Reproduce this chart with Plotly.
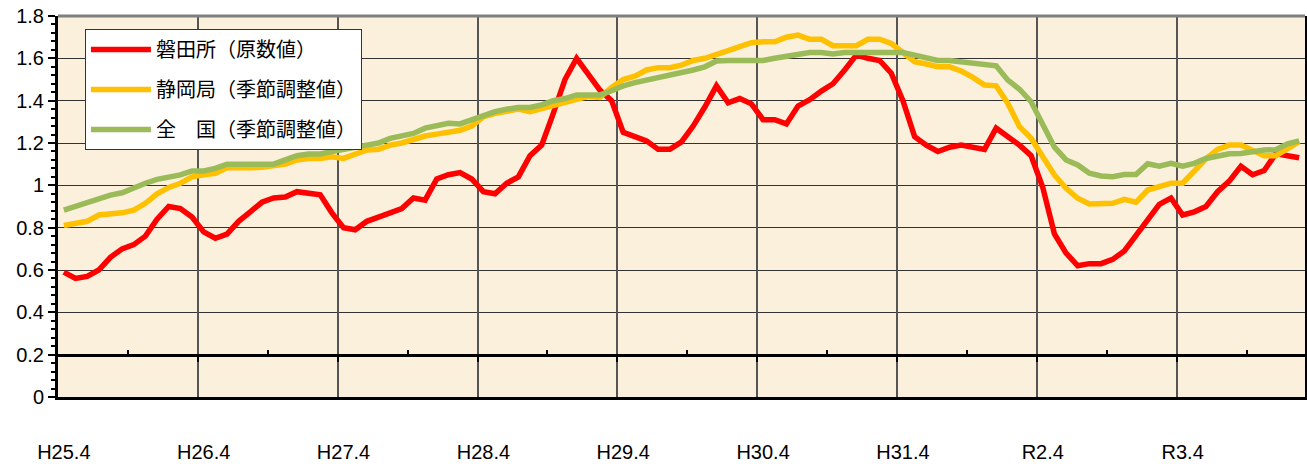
import plotly.graph_objects as go

# Month categories: H25.4 (Apr 2013) .. R4.2 (Feb 2022)
months = []
for k in range(107):
    y = 2013 + (3 + k) // 12
    m = (3 + k) % 12 + 1
    if (y, m) < (2019, 5):
        months.append(f"H{y - 1988}.{m}")
    else:
        months.append(f"R{y - 2018}.{m}")

year_ticks = ["H25.4", "H26.4", "H27.4", "H28.4", "H29.4", "H30.4", "H31.4", "R2.4", "R3.4"]

iwata = [0.59, 0.56, 0.57, 0.60, 0.66, 0.70, 0.72, 0.76, 0.84, 0.90, 0.89, 0.85,
         0.78, 0.75, 0.77, 0.83, 0.875, 0.92, 0.94, 0.945, 0.97, 0.965, 0.955, 0.87,
         0.80, 0.79, 0.83, 0.85, 0.87, 0.89, 0.94, 0.93, 1.03, 1.05, 1.06, 1.03,
         0.97, 0.96, 1.01, 1.04, 1.14, 1.19, 1.34, 1.50, 1.60, 1.52, 1.45, 1.40,
         1.25, 1.23, 1.21, 1.17, 1.17, 1.205, 1.28, 1.37, 1.47, 1.39, 1.41, 1.385,
         1.31, 1.31, 1.29, 1.375, 1.405, 1.445, 1.48, 1.545, 1.615, 1.60, 1.59, 1.53,
         1.40, 1.23, 1.19, 1.16, 1.18, 1.19, 1.18, 1.17, 1.27, 1.23, 1.19, 1.14,
         0.99, 0.77, 0.68, 0.62, 0.63, 0.63, 0.65, 0.69, 0.76, 0.83, 0.91, 0.94,
         0.86, 0.875, 0.90, 0.97, 1.02, 1.09, 1.05, 1.07, 1.15, 1.14, 1.13]

shizuoka = [0.81, 0.82, 0.83, 0.86, 0.863, 0.87, 0.883, 0.915, 0.96, 0.99, 1.01, 1.04,
            1.05, 1.057, 1.083, 1.08, 1.083, 1.085, 1.09, 1.10, 1.12, 1.127, 1.127, 1.135,
            1.127, 1.148, 1.167, 1.17, 1.19, 1.20, 1.217, 1.233, 1.242, 1.25, 1.26, 1.28,
            1.324, 1.34, 1.348, 1.36, 1.348, 1.364, 1.38, 1.395, 1.406, 1.42, 1.415, 1.463,
            1.50, 1.516, 1.545, 1.556, 1.556, 1.568, 1.59, 1.60, 1.615, 1.636, 1.655, 1.674,
            1.678, 1.678, 1.70, 1.71, 1.69, 1.69, 1.66, 1.66, 1.66, 1.69, 1.69, 1.67,
            1.623, 1.584, 1.573, 1.56, 1.56, 1.54, 1.51, 1.474, 1.47, 1.387, 1.277, 1.222,
            1.135, 1.049, 0.986, 0.939, 0.912, 0.912, 0.915, 0.934, 0.92, 0.978, 0.997, 1.01,
            1.01, 1.072, 1.125, 1.17, 1.19, 1.19, 1.162, 1.14, 1.14, 1.175, 1.206]

national = [0.883, 0.90, 0.923, 0.934, 0.954, 0.965, 0.99, 1.01, 1.028, 1.038, 1.049, 1.068,
            1.068, 1.08, 1.10, 1.10, 1.10, 1.10, 1.10, 1.12, 1.14, 1.148, 1.148, 1.16,
            1.167, 1.18, 1.19, 1.20, 1.222, 1.233, 1.245, 1.27, 1.28, 1.293, 1.29, 1.31,
            1.327, 1.348, 1.36, 1.368, 1.368, 1.38, 1.40, 1.41, 1.427, 1.427, 1.427, 1.447,
            1.47, 1.485, 1.497, 1.505, 1.516, 1.53, 1.545, 1.56, 1.587, 1.59, 1.59, 1.59,
            1.59, 1.60, 1.608, 1.615, 1.627, 1.627, 1.62, 1.627, 1.627, 1.627, 1.627, 1.627,
            1.627, 1.615, 1.604, 1.59, 1.59, 1.584, 1.58, 1.568, 1.565, 1.497, 1.454, 1.395,
            1.293, 1.18, 1.12, 1.096, 1.057, 1.044, 1.041, 1.051, 1.051, 1.102, 1.09, 1.104,
            1.09, 1.104, 1.127, 1.138, 1.149, 1.15, 1.16, 1.167, 1.168, 1.196, 1.21]

series_names = ["磐田所（原数値）", "静岡局（季節調整値）", "全　国（季節調整値）"]
series_colors = ["#FF0000", "#FFC000", "#9BBB59"]

n = len(months)
# category boundaries (between March and April; between September and October)
year_bounds = [12 * k - 0.5 for k in range(1, (n + 11) // 12)]
half_bounds = [12 * k + 5.5 for k in range(0, (n + 5) // 12)]

fig = go.Figure()
for i, (vals, name, col) in enumerate(zip([iwata, shizuoka, national], series_names, series_colors)):
    fig.add_trace(go.Scatter(x=months, y=vals, mode="lines", name=name,
                             line=dict(color=col, width=5.5), legendgroup=f"g{i}"))

# dummy traces to carry the overlay axes
for ax in ["x2", "x3"]:
    fig.add_trace(go.Scatter(x=[0, n - 1], y=[None, None], xaxis=ax, yaxis="y",
                             showlegend=False, hoverinfo="skip", mode="lines"))

lab_font = dict(family="Liberation Sans", size=20, color="black")
rng = [-0.5, n - 0.5]

fig.update_layout(
    width=1307, height=464,
    margin=dict(l=58, r=2, t=16, b=67, autoexpand=False),
    paper_bgcolor="white", plot_bgcolor="#FAF0DC",
    showlegend=True,
    legend=dict(x=0.0216, y=0.966, xanchor="left", yanchor="top",
                bgcolor="white", bordercolor="#333333", borderwidth=1,
                font=dict(family="Noto Sans CJK JP", size=20, color="black"),
                itemwidth=60, tracegroupgap=11, traceorder="grouped"),
    xaxis=dict(type="category", categoryorder="array", categoryarray=months, range=rng,
               tickvals=year_ticks, ticktext=year_ticks, tickangle=0, automargin=False,
               showgrid=False, ticks="",
               showline=True, linecolor="black", linewidth=3,
               tickfont=lab_font, ticklabelstandoff=35, zeroline=False),
    xaxis2=dict(type="linear", overlaying="x", anchor="free", position=0.2 / 1.8, side="bottom",
                range=rng, tickvals=year_bounds, ticks="outside", ticklen=5,
                tickwidth=2, tickcolor="black", showline=True, linecolor="black", linewidth=3,
                showticklabels=False, showgrid=True, gridcolor="#555555", gridwidth=1.5,
                zeroline=False),
    xaxis3=dict(type="linear", overlaying="x", anchor="free", position=0.2 / 1.8, side="top",
                range=rng, tickvals=half_bounds, ticks="outside", ticklen=5,
                tickwidth=2, tickcolor="black", showline=False,
                showticklabels=False, showgrid=False, zeroline=False),
    yaxis=dict(range=[0, 1.8], dtick=0.2, tick0=0, showgrid=True, gridcolor="#333333", gridwidth=1,
               ticks="outside", ticklen=7, tickwidth=1.5, tickcolor="black",
               minor=dict(dtick=0.04, ticks="outside", ticklen=4, tickcolor="black", showgrid=False),
               showline=True, linecolor="black", linewidth=3, mirror=True,
               tickfont=lab_font, zeroline=False, automargin=False),
    shapes=[dict(type="line", xref="paper", yref="paper", x0=0, x1=1, y0=1, y1=1,
                 line=dict(color="#7F7F7F", width=3), layer="above")],
)

fig.write_html("out.html", config={"displayModeBar": False},
               post_script="document.body.style.margin='0';")
